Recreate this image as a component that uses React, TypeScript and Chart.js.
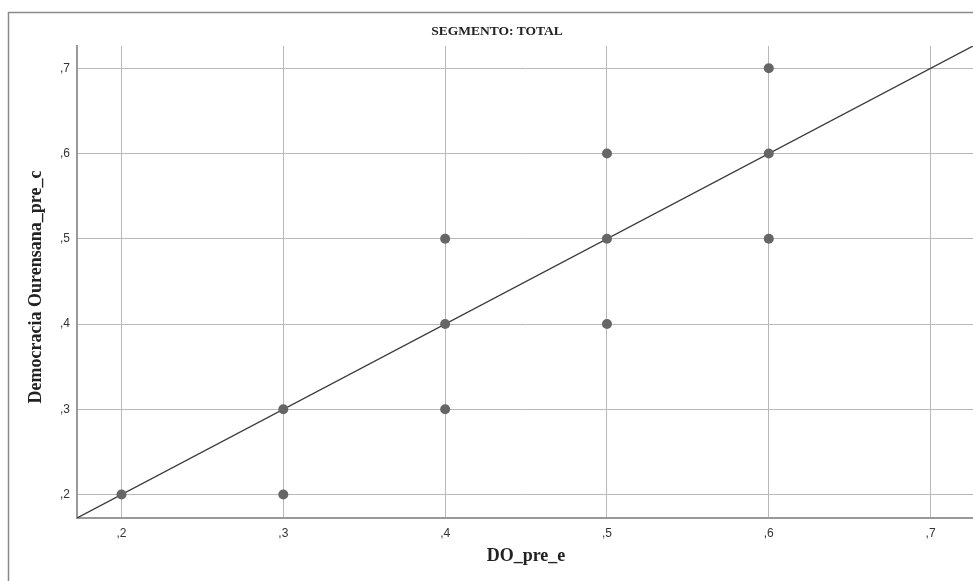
import React, { useEffect, useRef } from "react";
import { Chart, registerables } from "chart.js";

Chart.register(...registerables);

const TITLE = "SEGMENTO: TOTAL";
const X_TITLE = "DO_pre_e";
const Y_TITLE = "Democracia Ourensana_pre_c";

const X_TICKS = [0.2, 0.3, 0.4, 0.5, 0.6, 0.7];
const X_TICK_LABELS = [",2", ",3", ",4", ",5", ",6", ",7"];
const Y_TICKS = [0.2, 0.3, 0.4, 0.5, 0.6, 0.7];
const Y_TICK_LABELS = [",2", ",3", ",4", ",5", ",6", ",7"];

const POINT_X = [0.2, 0.3, 0.3, 0.4, 0.4, 0.4, 0.5, 0.5, 0.5, 0.6, 0.6, 0.6];
const POINT_Y = [0.2, 0.3, 0.2, 0.5, 0.4, 0.3, 0.6, 0.5, 0.4, 0.7, 0.6, 0.5];

const LINE_X = [0.1725, 0.7262];
const LINE_Y = [0.1725, 0.7262];

const AXIS_MIN = 0.1725;
const AXIS_MAX = 0.7262;

const W = 973;
const H = 581;

export default function App() {
  const ref = useRef<HTMLCanvasElement | null>(null);

  useEffect(() => {
    if (!ref.current) return;
    const framePlugin = {
      id: "frameAndTitles",
      beforeDraw(chart: any) {
        const ctx = chart.ctx;
        ctx.save();
        ctx.fillStyle = "#ffffff";
        ctx.fillRect(0, 0, chart.width, chart.height);
        ctx.strokeStyle = "#8a8a8a";
        ctx.lineWidth = 1.5;
        ctx.strokeRect(8.5, 12.5, 3000, 3000);
        ctx.restore();
      },
      afterDraw(chart: any) {
        const ctx = chart.ctx;
        const a = chart.chartArea;
        ctx.save();
        ctx.fillStyle = "#222222";
        ctx.textAlign = "center";
        ctx.textBaseline = "middle";
        ctx.font = "bold 13.5px 'Liberation Serif', 'DejaVu Serif', serif";
        ctx.fillText(TITLE, 497, 32);
        ctx.font = "bold 18px 'Liberation Serif', 'DejaVu Serif', serif";
        ctx.fillText(X_TITLE, (a.left + 975) / 2, 556);
        ctx.translate(36, 287);
        ctx.rotate(-Math.PI / 2);
        ctx.fillText(Y_TITLE, 0, 0);
        ctx.restore();
      },
    };

    const chart = new Chart(ref.current, {
      type: "scatter",
      data: {
        datasets: [
          {
            type: "line",
            data: LINE_X.map((x, i) => ({ x, y: LINE_Y[i] })),
            borderColor: "#3a3a3a",
            borderWidth: 1.3,
            pointRadius: 0,
            fill: false,
            order: 2,
          } as any,
          {
            type: "scatter",
            data: POINT_X.map((x, i) => ({ x, y: POINT_Y[i] })),
            backgroundColor: "#666666",
            borderColor: "#666666",
            pointRadius: 5,
            pointBorderWidth: 0,
            order: 1,
          },
        ],
      },
      options: {
        responsive: false,
        animation: false,
        layout: { padding: { left: 0, right: 0, top: 46, bottom: 0 }, autoPadding: false },
        plugins: {
          legend: { display: false },
          title: { display: false },
          tooltip: { enabled: false },
        },
        scales: {
          x: {
            type: "linear",
            min: AXIS_MIN,
            max: AXIS_MAX,
            afterBuildTicks: (s: any) => {
              s.ticks = X_TICKS.map((v) => ({ value: v }));
            },
            afterFit: (s: any) => {
              s.height = 63;
            },
            ticks: {
              autoSkip: false,
              maxRotation: 0,
              padding: 8,
              color: "#333333",
              font: { size: 12, family: "'Liberation Sans', Arial, sans-serif" },
              callback: (_v: any, i: number) => X_TICK_LABELS[i],
            },
            grid: { color: "#b8b8b8", lineWidth: 1, drawTicks: false },
            border: { color: "#999999", width: 2 },
          },
          y: {
            type: "linear",
            min: AXIS_MIN,
            max: AXIS_MAX,
            afterBuildTicks: (s: any) => {
              s.ticks = Y_TICKS.map((v) => ({ value: v }));
            },
            afterFit: (s: any) => {
              s.width = 77;
            },
            ticks: {
              autoSkip: false,
              padding: 7,
              color: "#333333",
              font: { size: 12, family: "'Liberation Sans', Arial, sans-serif" },
              callback: (_v: any, i: number) => Y_TICK_LABELS[i],
            },
            grid: { color: "#b8b8b8", lineWidth: 1, drawTicks: false },
            border: { color: "#999999", width: 2 },
          },
        },
      },
      plugins: [framePlugin],
    });
    return () => chart.destroy();
  }, []);

  return (
    <div style={{ position: "fixed", left: 0, top: 0, width: W, height: H, overflow: "hidden", background: "#fff" }}>
      <canvas ref={ref} width={W} height={H} style={{ display: "block", width: W, height: H }} />
    </div>
  );
}
